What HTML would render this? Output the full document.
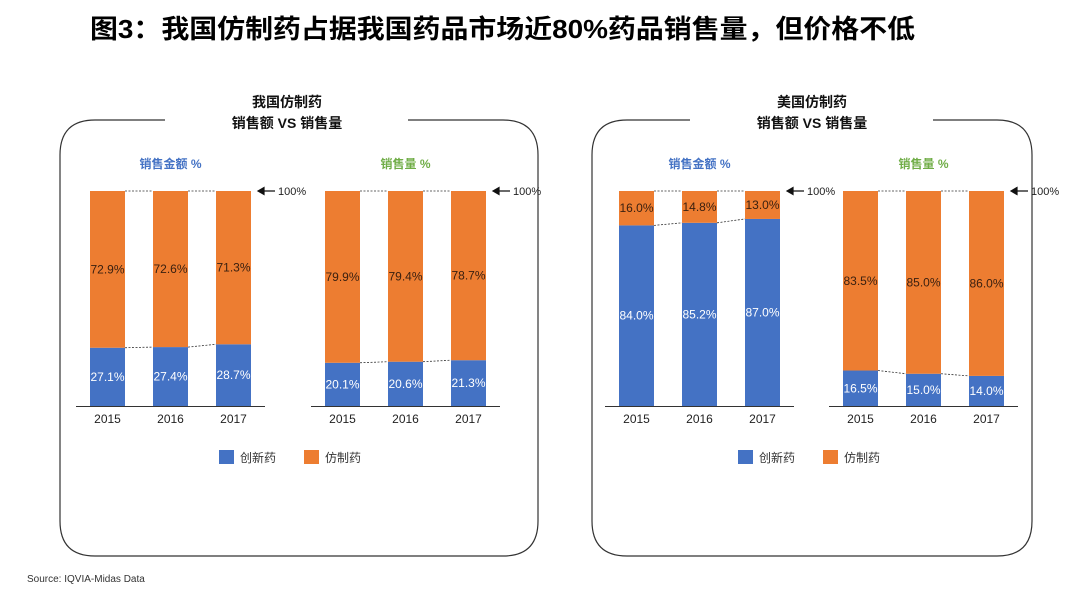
<!DOCTYPE html>
<html><head><meta charset="utf-8"><style>
html,body{margin:0;padding:0;background:#fff;}
svg{display:block;font-family:"Liberation Sans","Noto Sans CJK SC",sans-serif;}
</style></head><body>
<svg id="s" width="1080" height="599" viewBox="0 0 1080 599">
<text x="90" y="38" font-size="26" font-weight="bold" fill="#000" textLength="825" lengthAdjust="spacingAndGlyphs">图3：我国仿制药占据我国药品市场近80%药品销售量，但价格不低</text>
<text x="27" y="582" font-size="10" fill="#333">Source: IQVIA-Midas Data</text>
<g id="root"></g>
</svg>
<script>
// data
const years = ["2015","2016","2017"];
const cnValueInnov = [27.1, 27.4, 28.7];
const cnValueGeneric = [72.9, 72.6, 71.3];
const cnVolInnov = [20.1, 20.6, 21.3];
const cnVolGeneric = [79.9, 79.4, 78.7];
const usValueInnov = [84.0, 85.2, 87.0];
const usValueGeneric = [16.0, 14.8, 13.0];
const usVolInnov = [16.5, 15.0, 14.0];
const usVolGeneric = [83.5, 85.0, 86.0];
const legendLabels = ["创新药","仿制药"];

const NS="http://www.w3.org/2000/svg";
const root=document.getElementById('root');
const BLUE="#4472C4", ORANGE="#ED7D31", GREEN="#70AD47";
function mk(tag,attrs,parent,text){const e=document.createElementNS(NS,tag);for(const k in attrs)e.setAttribute(k,attrs[k]);if(text!==undefined)e.textContent=text;(parent||root).appendChild(e);return e;}
const TOP=191, BASE=406;
function yScale(v){return BASE-(v/100)*(BASE-TOP);}

function panel(x0,x1,tcx,gapL,gapR,title1,title2,key){
  const g=mk('g',{});
  
  
  const r=35, y0=120, y1=556;
  const p=mk('path',{d:`M${gapL},${y0} L${x0+r},${y0} Q${x0},${y0} ${x0},${y0+r} L${x0},${y1-r} Q${x0},${y1} ${x0+r},${y1} L${x1-r},${y1} Q${x1},${y1} ${x1},${y1-r} L${x1},${y0+r} Q${x1},${y0} ${x1-r},${y0} L${gapR},${y0}`,fill:'none',stroke:'#333','stroke-width':1.2},g);
  
  
  const t1=mk('text',{x:tcx,y:107,'text-anchor':'middle','font-size':14,'font-weight':'bold',fill:'#111'},g,title1);
  
  
  const t2=mk('text',{x:tcx,y:128,'text-anchor':'middle','font-size':14,'font-weight':'bold',fill:'#111'},g,title2);
  
  
  return g;
}

function chart(g,key,barX0,title,titleColor,innov,generic){
  const step=63, bw=35;
  const cx=barX0+step+bw/2;
  const tt=mk('text',{x:cx,y:168,'text-anchor':'middle','font-size':12,'font-weight':'bold',fill:titleColor},g,title);
  
  
  years.forEach((yr,i)=>{
    const x=barX0+i*step;
    const yb=yScale(innov[i]);
    const b=mk('rect',{x:x,y:yb,width:bw,height:BASE-yb,fill:BLUE},g);
    
    
    const o=mk('rect',{x:x,y:yScale(100),width:bw,height:yb-yScale(100),fill:ORANGE},g);
    
    
    const l1=mk('text',{x:x+bw/2,y:(yb+BASE)/2+4,'text-anchor':'middle','font-size':12,fill:'#fff'},g,innov[i].toFixed(1)+'%');
    
    
    const l2=mk('text',{x:x+bw/2,y:(yb+yScale(100))/2+4,'text-anchor':'middle','font-size':12,fill:'#3a2010'},g,generic[i].toFixed(1)+'%');
    
    
    const xl=mk('text',{x:x+bw/2,y:423,'text-anchor':'middle','font-size':12,fill:'#222'},g,yr);
    
    
    if(i<years.length-1){
      const d1=mk('line',{x1:x+bw,y1:yScale(100),x2:x+step,y2:yScale(100),stroke:'#333','stroke-width':0.8,'stroke-dasharray':'2,1.5'},g);
      
      
      const d2=mk('line',{x1:x+bw,y1:yb,x2:x+step,y2:yScale(innov[i+1]),stroke:'#333','stroke-width':0.8,'stroke-dasharray':'2,1.5'},g);
      
      
    }
  });
  const ax=mk('line',{x1:barX0-14,y1:BASE+0.5,x2:barX0+2*step+bw+14,y2:BASE+0.5,stroke:'#333','stroke-width':1},g);
  
  
  const ar=barX0+2*step+bw+7;
  const a=mk('path',{d:`M${ar},${yScale(100)} l6,-3.5 v7 z M${ar+5},${yScale(100)} h12`,stroke:'#111','stroke-width':1.2,fill:'#111'},g);
  
  
  const at=mk('text',{x:ar+20,y:yScale(100)+4,'font-size':11,fill:'#222'},g,'100%');
  
  
}

function legend(g,key,x){
  [[BLUE,0],[ORANGE,1]].forEach(([c,i])=>{
    const lx=x+i*85;
    const r=mk('rect',{x:lx,y:450,width:15,height:14,fill:c},g);
    
    
    const t=mk('text',{x:lx+21,y:462,'font-size':12,fill:'#333'},g,legendLabels[i]);
    
    
  });
}

const g1=panel(60,538,287,165,408,'我国仿制药','销售额 VS 销售量','china');
chart(g1,'china-value',90,'销售金额 %',BLUE,cnValueInnov,cnValueGeneric);
chart(g1,'china-volume',325,'销售量 %',GREEN,cnVolInnov,cnVolGeneric);
legend(g1,'china',219);
const g2=panel(592,1032,812,690,933,'美国仿制药','销售额 VS 销售量','us');
chart(g2,'us-value',619,'销售金额 %',BLUE,usValueInnov,usValueGeneric);
chart(g2,'us-volume',843,'销售量 %',GREEN,usVolInnov,usVolGeneric);
legend(g2,'us',738);
</script>
</body></html>
